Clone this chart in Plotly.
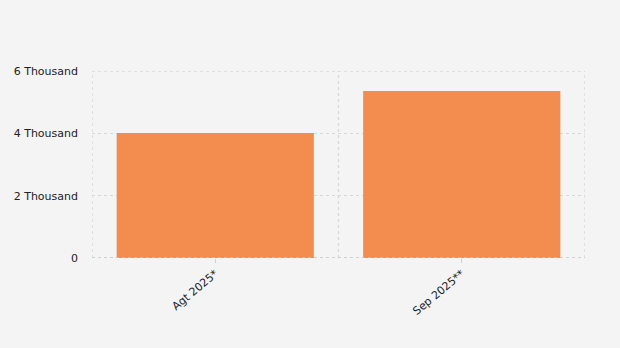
import plotly.graph_objects as go

categories = ["Agt 2025*", "Sep 2025**"]
values = [4010, 5360]
y_tickvals = [0, 2000, 4000, 6000]
y_ticktext = ["0", "2 Thousand", "4 Thousand", "6 Thousand"]

xpos = list(range(len(categories)))
bounds = [i - 0.5 for i in xpos] + [xpos[-1] + 0.5]

GRID = "#d8d8d8"
DASH = "3px,3px"

fig = go.Figure(go.Bar(
    x=xpos, y=values, width=0.8,
    marker=dict(color="#F28C4F", line=dict(width=0)),
    hoverinfo="x+y",
))

fig.update_layout(
    width=620, height=348,
    margin=dict(l=92, r=35, t=71, b=90),
    paper_bgcolor="#F4F4F4", plot_bgcolor="#F4F4F4",
    font=dict(family="DejaVu Sans, Verdana, sans-serif", size=11, color="#222222"),
    showlegend=False,
)
fig.update_xaxes(
    range=[bounds[0], bounds[-1]],
    tickmode="array", tickvals=xpos, ticktext=categories,
    tickangle=-40, ticks="outside", ticklen=4, tickcolor="#d0d0d0",
    showgrid=False, zeroline=False, showline=False,
)
fig.update_yaxes(
    range=[0, 6000],
    tickmode="array", tickvals=y_tickvals, ticktext=y_ticktext,
    showgrid=True, gridcolor=GRID, griddash=DASH, gridwidth=1.3,
    zeroline=False, ticks="", ticklabelstandoff=13,
)
for b in bounds:
    fig.add_shape(type="line", xref="x", yref="paper", x0=b, x1=b, y0=0, y1=1,
                  line=dict(color=GRID, width=1.3, dash=DASH), layer="below")
fig.add_shape(type="line", xref="paper", yref="y", x0=0, x1=1, y0=6000, y1=6000,
              line=dict(color=GRID, width=1.3, dash=DASH), layer="below")
fig.add_shape(type="line", xref="paper", yref="y", x0=0, x1=1, y0=0, y1=0,
              line=dict(color="#c4c4c4", width=1.5, dash=DASH), layer="above")

fig.write_html("out.html")
